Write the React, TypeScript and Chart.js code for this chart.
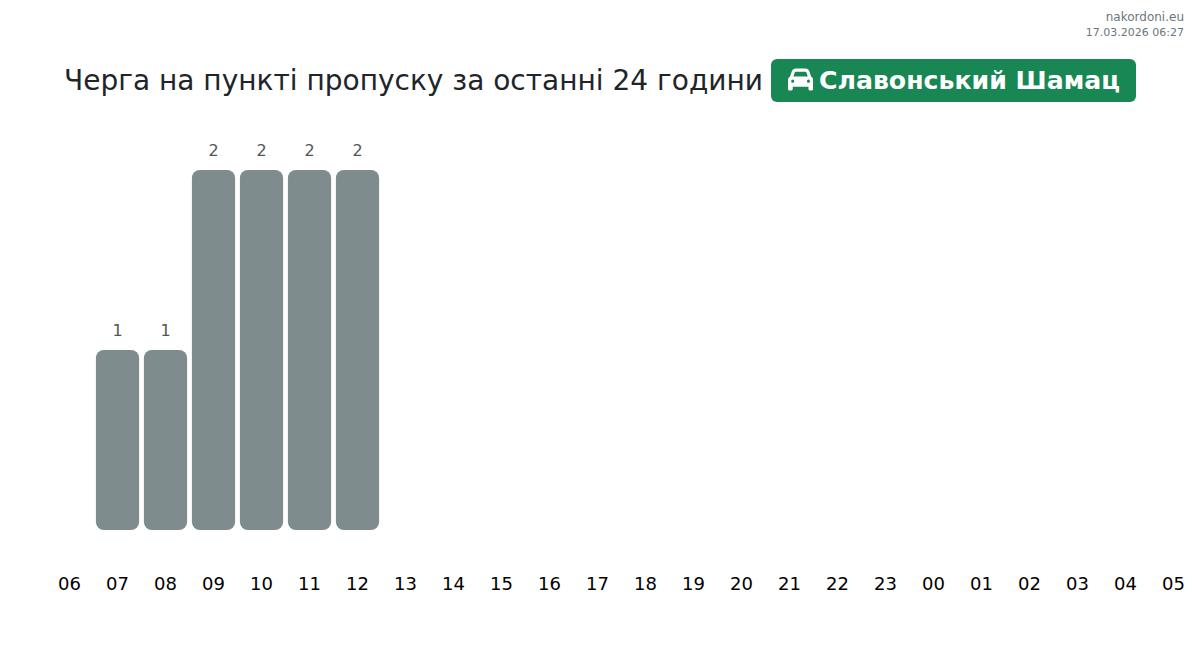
import React, { useEffect, useRef } from "react";
import { Chart, registerables } from "chart.js";

Chart.register(...registerables);

const hours = ["06","07","08","09","10","11","12","13","14","15","16","17","18","19","20","21","22","23","00","01","02","03","04","05"];
const queue = [0,1,1,2,2,2,2,0,0,0,0,0,0,0,0,0,0,0,0,0,0,0,0,0];
const titleText = "Черга на пункті пропуску за останні 24 години";
const badgeText = "Славонський Шамац";
const siteText = "nakordoni.eu";
const stampText = "17.03.2026 06:27";

const FONT = "'DejaVu Sans', sans-serif";
const CAR = "M135.2 117.4 109.1 192H402.9l-26.1-74.6C372.3 104.6 360.2 96 346.6 96H165.4c-13.6 0-25.7 8.6-30.2 21.4zM39.6 196.8 74.8 96.3C88.3 57.8 124.6 32 165.4 32H346.6c40.8 0 77.1 25.8 90.6 64.3l35.2 100.5c23.2 9.6 39.6 32.5 39.6 59.2V400v48c0 17.7-14.3 32-32 32H448c-17.7 0-32-14.3-32-32V400H96v48c0 17.7-14.3 32-32 32H32c-17.7 0-32-14.3-32-32V400 256c0-26.7 16.4-49.6 39.6-59.2zM128 288a32 32 0 1 0 -64 0 32 32 0 1 0 64 0zm288 32a32 32 0 1 0 0-64 32 32 0 1 0 0 64z";

const valueLabels = {
  id: "valueLabels",
  afterDatasetsDraw(chart: any) {
    const { ctx } = chart;
    const meta = chart.getDatasetMeta(0);
    ctx.save();
    ctx.font = `16px ${FONT}`;
    ctx.fillStyle = "#555555";
    ctx.textAlign = "center";
    ctx.textBaseline = "middle";
    meta.data.forEach((bar: any, i: number) => {
      if (queue[i] > 0) ctx.fillText(String(queue[i]), bar.x, bar.y - 18);
    });
    ctx.restore();
  },
};

export default function App() {
  const ref = useRef<HTMLCanvasElement | null>(null);
  useEffect(() => {
    document.body.style.margin = "0";
    document.body.style.overflow = "hidden";
    const canvas = ref.current!;
    canvas.getContext("2d", { alpha: false })!;
    const chart = new Chart(canvas, {
      type: "bar",
      data: {
        labels: hours,
        datasets: [{
          data: queue,
          backgroundColor: "#7f8c8d",
          borderRadius: 8,
          borderSkipped: false,
          barPercentage: 0.9,
          categoryPercentage: 1,
        }],
      },
      options: {
        animation: false,
        responsive: false,
        layout: { padding: { left: 5.5, right: 2.5, top: 0, bottom: 0 } },
        plugins: {
          legend: { display: false },
          tooltip: { enabled: false },
          title: { display: false },
        },
        scales: {
          x: {
            grid: { display: false, drawTicks: true, tickLength: 45 },
            border: { display: false },
            ticks: { color: "#000000", font: { family: FONT, size: 18 }, padding: 0, maxRotation: 0, autoSkip: false },
            afterFit(scale: any) { scale.height = 84; },
          },
          y: { display: false, min: 0, max: 2.2 },
        },
      },
      plugins: [
        {
          id: "bg",
          beforeDraw(c: any) {
            c.ctx.save();
            c.ctx.fillStyle = "#ffffff";
            c.ctx.fillRect(0, 0, c.width, c.height);
            c.ctx.restore();
          },
        },
        valueLabels,
      ],
    });
    return () => chart.destroy();
  }, []);

  return (
    <div style={{ position: "relative", width: 1200, height: 651, background: "#fff", fontFamily: FONT, overflow: "hidden" }}>
      <div style={{ position: "absolute", right: 16, top: 9, textAlign: "right", fontSize: 12, lineHeight: "16px", color: "#6c757d" }}>
        <div>{siteText}</div>
        <div style={{ fontSize: 11 }}>{stampText}</div>
      </div>
      <div style={{ position: "absolute", left: 64, top: 59, height: 43, lineHeight: "43px", fontSize: 28, color: "#212529", whiteSpace: "nowrap" }}>
        {titleText}
      </div>
      <div style={{ position: "absolute", left: 771, top: 59, width: 365, height: 43, borderRadius: 6, background: "#198754", color: "#fff", fontWeight: 700, fontSize: 25.2, lineHeight: "43px", whiteSpace: "nowrap" }}>
        <svg viewBox="0 0 512 512" width="25.2" height="25.2" fill="#fff" style={{ position: "absolute", left: 17, top: 8 }}>
          <path d={CAR} />
        </svg>
        <span style={{ position: "absolute", left: 48 }}>{badgeText}</span>
      </div>
      <canvas ref={ref} width={1160} height={480} style={{ position: "absolute", left: 40, top: 134, display: "block" }} />
    </div>
  );
}
